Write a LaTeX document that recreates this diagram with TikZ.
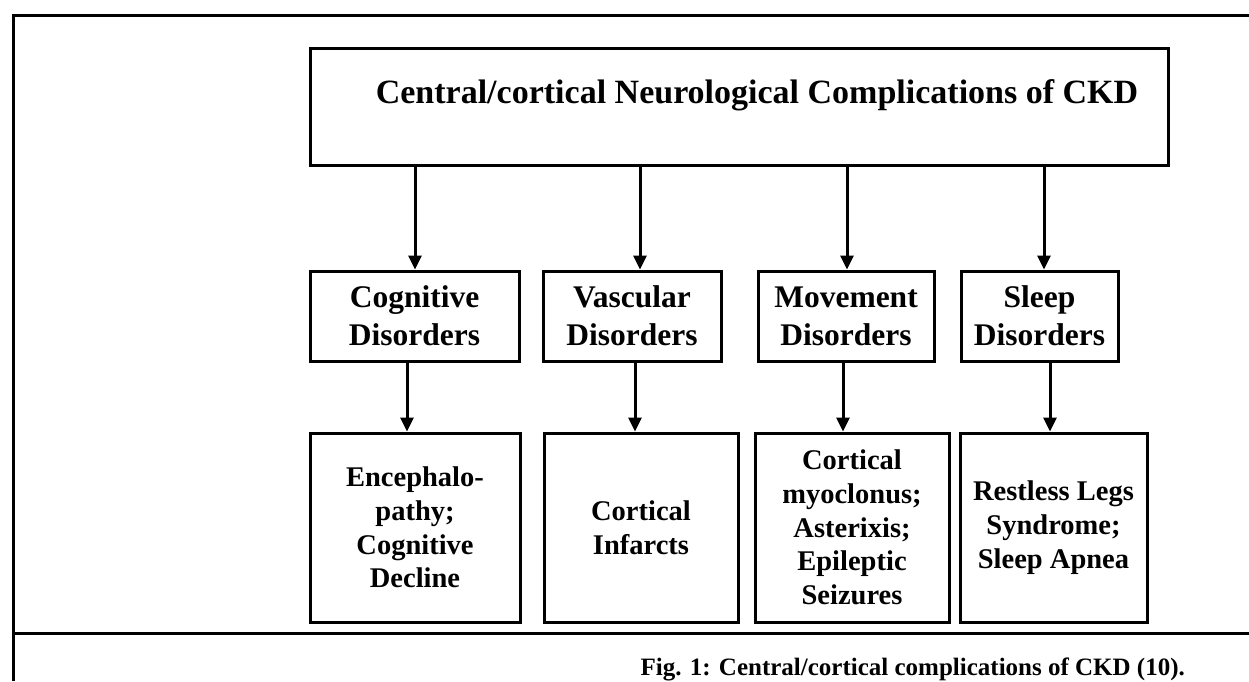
\documentclass[tikz,border=0pt]{standalone}
\usepackage{fontspec}
\setmainfont{Liberation Serif}
\usetikzlibrary{arrows.meta}
\begin{document}
\begin{tikzpicture}[x=1pt,y=-1pt,
  frame/.style={line width=3pt},
  box/.style={draw, line width=3pt, rectangle, inner sep=0pt, align=center},
  midbox/.style={box, minimum height=90pt, font=\fontsize{31.5}{38}\selectfont\bfseries},
  botbox/.style={box, minimum height=189pt, font=\fontsize{28.5}{33.7}\selectfont\bfseries},
  arr/.style={line width=3pt, -{Triangle[length=14pt,width=13pt]}}]
\useasboundingbox (0,0) rectangle (1249,681);
% outer frame
\draw[frame] (13,681) -- (13,15) -- (1249,15);
\draw[frame] (13,633) -- (1249,633);
% top box
\node[box, minimum width=858pt, minimum height=117pt] (top) at (739,106.5) {};
\node[anchor=base, font=\fontsize{34}{40}\selectfont\bfseries] (title) at (757,103) {Central/cortical Neurological Complications of CKD};
% middle boxes
\node[midbox, minimum width=209pt] (m1) at (414.5,316) {Cognitive\\Disorders};
\node[midbox, minimum width=178pt] (m2) at (632,316) {Vascular\\Disorders};
\node[midbox, minimum width=176pt] (m3) at (846,316) {Movement\\Disorders};
\node[midbox, minimum width=157pt] (m4) at (1039.5,316) {Sleep\\Disorders};
% bottom boxes
\node[botbox, minimum width=210pt] (b1) at (415,527.5) {Encephalo-\\pathy;\\Cognitive\\Decline};
\node[botbox, minimum width=194pt] (b2) at (641,527.5) {Cortical\\Infarcts};
\node[botbox, minimum width=194pt] (b3) at (852,527.5) {Cortical\\myoclonus;\\Asterixis;\\Epileptic\\Seizures};
\node[botbox, minimum width=187pt] (b4) at (1053.5,527.5) {Restless Legs\\Syndrome;\\Sleep Apnea};
% arrows top -> middle
\coordinate (t1) at ([xshift=0.5pt]m1.north);
\coordinate (t2) at ([xshift=8pt]m2.north);
\coordinate (t3) at ([xshift=1pt]m3.north);
\coordinate (t4) at ([xshift=4.5pt]m4.north);
\draw[arr] (top.south -| t1) -- (t1);
\draw[arr] (top.south -| t2) -- (t2);
\draw[arr] (top.south -| t3) -- (t3);
\draw[arr] (top.south -| t4) -- (t4);
% arrows middle -> bottom
\coordinate (s1) at ([xshift=-7.5pt]m1.south);
\coordinate (s2) at ([xshift=3pt]m2.south);
\coordinate (s3) at ([xshift=-3pt]m3.south);
\coordinate (s4) at ([xshift=10.5pt]m4.south);
\draw[arr] (s1) -- (s1 |- b1.north);
\draw[arr] (s2) -- (s2 |- b2.north);
\draw[arr] (s3) -- (s3 |- b3.north);
\draw[arr] (s4) -- (s4 |- b4.north);
% caption
\node[anchor=base west, font=\fontsize{25}{30}\selectfont\bfseries] (cap) at (637,675) {Fig. 1: Central/cortical complications of CKD (10).};
\end{tikzpicture}
\end{document}
